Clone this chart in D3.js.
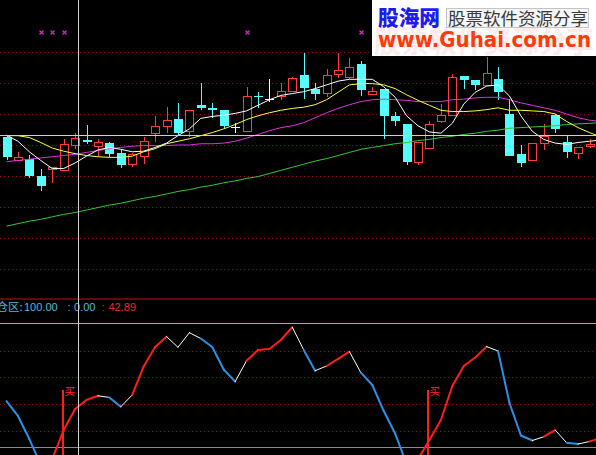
<!DOCTYPE html>
<html>
<head>
<meta charset="utf-8">
<script src="https://cdn.jsdelivr.net/npm/d3@7"></script>
<style>
  html, body { margin: 0; padding: 0; background: #000; overflow: hidden; }
  svg { display: block; }
</style>
</head>
<body>
<svg id="chart" width="596" height="455"></svg>
<script>
// ---- daily bars (price) ----
const openP  = [10.13, 9.76, 9.77, 9.50, 9.62, 9.60, 10.00, 10.08, 9.99, 10.03, 9.87, 9.69, 9.83, 10.20, 10.31, 10.42, 10.23, 10.65, 10.60, 10.56, 10.29, 10.23, 10.79, 10.75, 10.79, 10.87, 11.13, 10.90, 10.84, 11.14, 11.10, 11.30, 10.83, 10.90, 10.47, 10.34, 9.72, 9.95, 10.39, 10.48, 11.11, 11.05, 10.96, 11.06, 10.50, 9.85, 9.75, 10.03, 10.48, 10.04, 9.87, 9.99, 10.02];
const highP  = [10.16, 9.89, 9.84, 9.62, 9.65, 10.09, 10.19, 10.32, 10.09, 10.04, 9.92, 9.87, 10.13, 10.46, 10.61, 10.67, 10.56, 11.00, 10.67, 10.56, 10.36, 10.94, 10.86, 11.06, 11.00, 11.09, 11.49, 11.00, 11.23, 11.49, 11.41, 11.35, 10.94, 10.90, 10.53, 10.34, 10.05, 10.39, 10.66, 11.15, 11.11, 11.05, 11.42, 11.26, 10.75, 10.00, 10.03, 10.34, 10.50, 10.15, 9.97, 10.09, 10.08];
const lowP   = [9.75, 9.75, 9.47, 9.26, 9.39, 9.60, 9.94, 10.02, 9.82, 9.81, 9.63, 9.64, 9.69, 10.05, 10.19, 10.15, 10.13, 10.56, 10.43, 10.27, 10.20, 10.23, 10.60, 10.69, 10.73, 10.87, 10.74, 10.73, 10.78, 11.08, 11.06, 10.79, 10.80, 10.10, 10.31, 9.68, 9.67, 9.95, 10.36, 10.48, 10.90, 10.88, 10.96, 10.73, 9.82, 9.65, 9.75, 9.92, 10.19, 9.79, 9.77, 9.95, 10.00];
const closeP = [9.81, 9.80, 9.50, 9.34, 9.64, 10.01, 10.11, 10.04, 10.04, 9.85, 9.67, 9.85, 10.07, 10.31, 10.40, 10.20, 10.56, 10.60, 10.56, 10.31, 10.29, 10.79, 10.77, 10.75, 10.87, 11.08, 10.92, 10.83, 11.13, 11.21, 11.26, 10.88, 10.87, 10.47, 10.39, 9.73, 10.04, 10.34, 10.48, 11.10, 11.05, 10.96, 11.16, 10.86, 9.82, 9.71, 10.03, 10.14, 10.25, 9.88, 9.97, 10.02, 10.05];

// ---- moving averages ----
const ma5  = [10.16, 10.06, 9.89, 9.75, 9.62, 9.62, 9.71, 9.82, 9.92, 9.96, 9.93, 9.89, 9.90, 9.96, 10.03, 10.15, 10.26, 10.43, 10.46, 10.48, 10.51, 10.55, 10.64, 10.73, 10.80, 10.83, 10.86, 10.91, 10.97, 11.03, 11.06, 11.06, 11.06, 10.94, 10.77, 10.47, 10.31, 10.21, 10.19, 10.35, 10.66, 10.85, 10.95, 10.97, 10.79, 10.47, 10.22, 10.09, 10.03, 10.01, 10.04, 10.06, 10.08];
const ma10 = [10.15, 10.15, 10.12, 10.04, 9.95, 9.90, 9.86, 9.83, 9.81, 9.80, 9.80, 9.82, 9.89, 9.94, 10.02, 10.06, 10.10, 10.15, 10.20, 10.26, 10.33, 10.41, 10.47, 10.52, 10.56, 10.59, 10.61, 10.65, 10.73, 10.85, 10.97, 10.99, 10.99, 10.97, 10.91, 10.81, 10.72, 10.64, 10.56, 10.54, 10.54, 10.55, 10.57, 10.60, 10.56, 10.56, 10.55, 10.54, 10.50, 10.38, 10.28, 10.20, 10.13];
const ma20 = [9.73, 9.75, 9.77, 9.79, 9.81, 9.83, 9.85, 9.88, 9.91, 9.94, 9.96, 9.98, 9.99, 9.99, 9.99, 10.00, 10.00, 10.02, 10.02, 10.03, 10.06, 10.11, 10.17, 10.23, 10.28, 10.31, 10.36, 10.44, 10.52, 10.59, 10.65, 10.70, 10.73, 10.74, 10.73, 10.72, 10.70, 10.70, 10.70, 10.73, 10.74, 10.76, 10.77, 10.77, 10.73, 10.68, 10.64, 10.60, 10.56, 10.50, 10.44, 10.40, 10.38];
const ma60 = [8.69, 8.73, 8.77, 8.80, 8.84, 8.88, 8.91, 8.95, 8.99, 9.03, 9.06, 9.10, 9.14, 9.17, 9.21, 9.25, 9.28, 9.32, 9.35, 9.39, 9.42, 9.46, 9.49, 9.54, 9.59, 9.64, 9.69, 9.74, 9.78, 9.83, 9.88, 9.93, 9.96, 9.99, 10.02, 10.04, 10.07, 10.09, 10.12, 10.14, 10.17, 10.19, 10.22, 10.24, 10.27, 10.28, 10.29, 10.30, 10.31, 10.33, 10.34, 10.35, 10.36];

// ---- oscillator (lower pane) ----
const jLine = [37.0, 24.9, 6.2, -14.8, -10.0, 13.5, 30.6, 37.9, 41.3, 39.9, 32.4, 41.9, 65.0, 80.8, 89.2, 80.6, 92.4, 87.7, 80.8, 62.6, 52.7, 69.7, 78.4, 79.2, 86.5, 96.8, 78.4, 61.6, 65.4, 71.1, 77.0, 60.0, 50.0, 28.9, 10.7, -14.0, -10.0, 5.4, 21.6, 49.2, 65.4, 72.3, 81.1, 77.6, 35.4, 9.1, 5.0, 8.1, 13.5, 3.2, 2.2, 4.2, 7.0];
const jRefLevels = [100, 0];
const jGrid = [12.9, 34.5, 56.2, 77.8];
const buyDays = [5, 37];
const buySpan = [46, -20];
const headerName = "建仓区:";
const headerValues = ["100.00", "0.00", "42.89"];

// ---- upper pane extras ----
const priceGrid = [8.0, 8.5, 9.0, 9.5, 10.0, 10.5, 11.0, 11.5];
const signalDays = [3, 4, 5, 21, 31];
const signalPrice = 11.82;
const cursorDay = 6;
const cursorPrice = 10.16;

// ---- layout ----
const W = 596, H = 455;
const upperBottom = 298, dividerY = 299;
const svg = d3.select("#chart");
svg.append("rect").attr("width", W).attr("height", H).attr("fill", "#000");

const days = d3.range(openP.length);
const x = d3.scaleLinear().domain([0, 51]).range([6.5, 589.5]);
const yP = d3.scaleLinear().domain([7.53, 12.34]).range([upperBottom, 0]);
const yJ = d3.scaleLinear().domain([0, 100]).range([446.7, 323.3]);
const px = v => Math.round(v) + 0.5;

const defs = svg.append("defs");
defs.append("clipPath").attr("id", "clipUp").append("rect").attr("x", 0).attr("y", 0).attr("width", W).attr("height", upperBottom);
defs.append("clipPath").attr("id", "clipLo").append("rect").attr("x", 0).attr("y", 300).attr("width", W).attr("height", H - 300);

const gridColor = "#8a1414";

// ---------- upper pane ----------
const up = svg.append("g").attr("clip-path", "url(#clipUp)");

up.selectAll("line.pgrid").data(priceGrid).join("line")
  .attr("class", "pgrid")
  .attr("x1", 0).attr("x2", W)
  .attr("y1", d => px(yP(d))).attr("y2", d => px(yP(d)))
  .attr("stroke", gridColor).attr("stroke-width", 1).attr("stroke-dasharray", "1,3");

const RED = "#ff3c3c", CYAN = "#54fcfc";
const candles = up.append("g");
days.forEach(i => {
  const cx = Math.round(x(i));
  const o = Math.round(yP(openP[i])), c = Math.round(yP(closeP[i]));
  const h = Math.round(yP(highP[i])), l = Math.round(yP(lowP[i]));
  const g = candles.append("g");
  if (closeP[i] > openP[i]) {
    // rising bar: hollow red body, wicks outside the body
    if (h < c) g.append("line").attr("x1", cx + 0.5).attr("x2", cx + 0.5).attr("y1", h).attr("y2", c).attr("stroke", RED);
    if (l > o) g.append("line").attr("x1", cx + 0.5).attr("x2", cx + 0.5).attr("y1", o).attr("y2", l).attr("stroke", RED);
    g.append("rect").attr("x", cx - 3.5).attr("y", c + 0.5).attr("width", 8).attr("height", Math.max(o - c, 1))
      .attr("fill", "#000").attr("stroke", RED).attr("stroke-width", 1);
  } else if (closeP[i] < openP[i]) {
    // falling bar: solid cyan body
    g.append("line").attr("x1", cx + 0.5).attr("x2", cx + 0.5).attr("y1", h).attr("y2", l).attr("stroke", CYAN);
    g.append("rect").attr("x", cx - 4).attr("y", o).attr("width", 9).attr("height", Math.max(c - o, 1)).attr("fill", CYAN);
  } else {
    // unchanged bar: white cross
    g.append("line").attr("x1", cx + 0.5).attr("x2", cx + 0.5).attr("y1", h).attr("y2", l).attr("stroke", "#fff");
    g.append("line").attr("x1", cx - 4).attr("x2", cx + 5).attr("y1", o + 0.5).attr("y2", o + 0.5).attr("stroke", "#fff");
  }
});

const maLine = d3.line().x((d, i) => x(i)).y(d => yP(d));
[[ma60, "#34c834"], [ma20, "#e030e0"], [ma10, "#ffff40"], [ma5, "#ffffff"]].forEach(([s, col]) => {
  up.append("path").datum(s).attr("d", maLine).attr("fill", "none").attr("stroke", col).attr("stroke-width", 1);
});

// signal marks along the top
const sy = px(yP(signalPrice));
signalDays.forEach(i => {
  const sx = Math.round(x(i)) + 0.5;
  up.append("path")
    .attr("d", `M${sx - 2},${sy - 2}L${sx + 2},${sy + 2}M${sx - 2},${sy + 2}L${sx + 2},${sy - 2}`)
    .attr("stroke", "#c832c8").attr("stroke-width", 1.2).attr("fill", "none");
});

// horizontal cursor line
up.append("line").attr("x1", 0).attr("x2", W)
  .attr("y1", px(yP(cursorPrice))).attr("y2", px(yP(cursorPrice)))
  .attr("stroke", "#cfcfcf").attr("stroke-width", 1);

// pane divider
svg.append("line").attr("x1", 0).attr("x2", W).attr("y1", dividerY).attr("y2", dividerY)
  .attr("stroke", "#7d1010").attr("stroke-width", 1.6);

// ---------- lower pane ----------
const lo = svg.append("g").attr("clip-path", "url(#clipLo)");

lo.selectAll("line.jgrid").data(jGrid).join("line")
  .attr("class", "jgrid")
  .attr("x1", 0).attr("x2", W)
  .attr("y1", d => px(yJ(d))).attr("y2", d => px(yJ(d)))
  .attr("stroke", gridColor).attr("stroke-width", 1).attr("stroke-dasharray", "1,3");

lo.append("line").attr("x1", 0).attr("x2", W)
  .attr("y1", px(yJ(jRefLevels[0]))).attr("y2", px(yJ(jRefLevels[0])))
  .attr("stroke", "#5cc8e8").attr("stroke-width", 1);
lo.append("line").attr("x1", 0).attr("x2", W)
  .attr("y1", px(yJ(jRefLevels[1]))).attr("y2", px(yJ(jRefLevels[1])))
  .attr("stroke", "#36c936").attr("stroke-width", 1);

// oscillator: red while rising, blue while falling, thin white at a turn
const J_RED = "#ff1e1e", J_BLUE = "#2c90e4";
const segs = d3.range(jLine.length - 1).map(i => {
  const rising = jLine[i + 1] > jLine[i];
  const prevRising = i > 0 ? jLine[i] > jLine[i - 1] : rising;
  const turn = rising !== prevRising;
  return { i, color: turn ? "#ffffff" : (rising ? J_RED : J_BLUE), w: turn ? 1 : 2 };
});
lo.selectAll("line.jseg").data(segs).join("line")
  .attr("class", "jseg")
  .attr("x1", d => x(d.i)).attr("x2", d => x(d.i + 1))
  .attr("y1", d => yJ(jLine[d.i])).attr("y2", d => yJ(jLine[d.i + 1]))
  .attr("stroke", d => d.color).attr("stroke-width", d => d.w).attr("stroke-linecap", "round");

// buy signals
buyDays.forEach(i => {
  const bx = Math.round(x(i)) - 1;
  lo.append("line").attr("x1", bx).attr("x2", bx)
    .attr("y1", yJ(buySpan[0])).attr("y2", yJ(buySpan[1]))
    .attr("stroke", "#ff1e1e").attr("stroke-width", 2);
  lo.append("text").attr("x", bx + 1.5).attr("y", yJ(buySpan[0]) + 1)
    .attr("dominant-baseline", "central")
    .attr("font-family", "'Noto Sans CJK SC', sans-serif").attr("font-size", 10.5)
    .attr("fill", "#ff2a2a").text("买");
});

// header readout
const hdr = svg.append("text").attr("y", 310.5)
  .attr("font-family", "'Liberation Sans', 'Noto Sans CJK SC', sans-serif").attr("font-size", 11);
hdr.append("tspan").attr("x", -15).attr("fill", "#4fbcdc")
  .attr("font-family", "'Noto Sans CJK SC', sans-serif").attr("font-size", 11.5).text(headerName);
hdr.append("tspan").attr("x", 24).attr("fill", "#4fbcdc").text(headerValues[0]);
hdr.append("tspan").attr("x", 67.5).attr("fill", "#4fbcdc").text(":");
hdr.append("tspan").attr("x", 74).attr("fill", "#4fbcdc").text(headerValues[1]);
hdr.append("tspan").attr("x", 101.5).attr("fill", "#e82828").text(":");
hdr.append("tspan").attr("x", 108.5).attr("fill", "#e82828").text(headerValues[2]);

// vertical cursor line through both panes
const cursorX = Math.round(x(cursorDay) + 3.5) - 0.5;
svg.append("line").attr("x1", cursorX).attr("x2", cursorX).attr("y1", 0).attr("y2", H)
  .attr("stroke", "#d2d2d2").attr("stroke-width", 1);

// ---------- site banner ----------
const bn = svg.append("g");
bn.append("rect").attr("x", 372).attr("y", 0).attr("width", W - 372).attr("height", 56).attr("fill", "#fff");
bn.append("text").attr("x", 374).attr("y", 52)
  .attr("font-family", "'Noto Sans CJK SC', sans-serif").attr("font-size", 30).attr("font-weight", 700)
  .attr("fill", "#fdeaea").attr("textLength", 220).attr("lengthAdjust", "spacingAndGlyphs").text("股票软件资源分享");
bn.append("text").attr("x", 378).attr("y", 25)
  .attr("font-family", "'Noto Sans CJK SC', sans-serif").attr("font-size", 21).attr("font-weight", 900)
  .attr("fill", "#1c1cf0").attr("textLength", 62).attr("lengthAdjust", "spacingAndGlyphs").text("股海网");
bn.append("rect").attr("x", 446.5).attr("y", 8.5).attr("width", 142).attr("height", 19)
  .attr("fill", "#f6f6f6").attr("stroke", "#c4c4c4").attr("stroke-width", 1);
bn.append("text").attr("x", 448).attr("y", 24.5)
  .attr("font-family", "'Noto Sans CJK SC', sans-serif").attr("font-size", 17).attr("font-weight", 400)
  .attr("fill", "#3a3a3a").attr("textLength", 140).attr("lengthAdjust", "spacingAndGlyphs").text("股票软件资源分享");
bn.append("text").attr("x", 378).attr("y", 46.5)
  .attr("font-family", "'DejaVu Sans', sans-serif").attr("font-size", 21).attr("font-weight", 700)
  .attr("fill", "#ff3a0a").attr("textLength", 213).attr("lengthAdjust", "spacingAndGlyphs").text("www.Guhai.com.cn");
</script>
</body>
</html>
